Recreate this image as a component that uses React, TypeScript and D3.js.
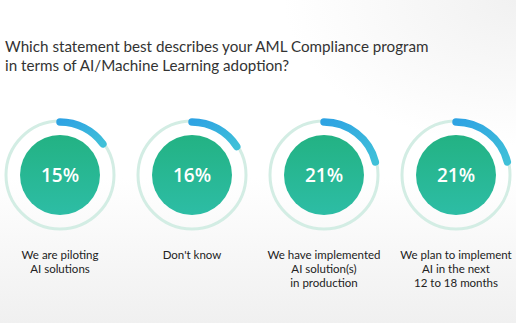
import React, { useRef, useEffect } from 'react';
import * as d3 from 'd3';

const titleLines = [
  'Which statement best describes your AML Compliance program',
  'in terms of AI/Machine Learning adoption?',
];
const values = [15, 16, 21, 21];
const labels = [
  ['We are piloting', 'AI solutions'],
  ["Don't know"],
  ['We have implemented', 'AI solution(s)', 'in production'],
  ['We plan to implement', 'AI in the next', '12 to 18 months'],
];

export default function App() {
  const svgRef = useRef<SVGSVGElement>(null);

  useEffect(() => {
    const width = 516;
    const height = 323;
    const svg = d3.select(svgRef.current)
      .attr('width', width)
      .attr('height', height);
    svg.selectAll('*').remove();

    const defs = svg.append('defs');
    const bg = defs.append('linearGradient').attr('id', 'bg')
      .attr('x1', 0).attr('y1', 0).attr('x2', 0).attr('y2', 1);
    bg.append('stop').attr('offset', '0.55').attr('stop-color', '#ffffff');
    bg.append('stop').attr('offset', '1').attr('stop-color', '#f0f0f0');

    const corner = defs.append('radialGradient').attr('id', 'corner')
      .attr('cx', 1).attr('cy', 0).attr('r', 0.45);
    corner.append('stop').attr('offset', '0').attr('stop-color', '#f1f1f1');
    corner.append('stop').attr('offset', '1').attr('stop-color', '#f1f1f1').attr('stop-opacity', 0);

    const green = defs.append('linearGradient').attr('id', 'green')
      .attr('x1', 0).attr('y1', 0).attr('x2', 0).attr('y2', 1);
    green.append('stop').attr('offset', '0').attr('stop-color', '#23b283');
    green.append('stop').attr('offset', '1').attr('stop-color', '#2dbda5');

    const blue = defs.append('linearGradient').attr('id', 'blue')
      .attr('gradientUnits', 'objectBoundingBox')
      .attr('x1', 0).attr('y1', 0).attr('x2', 1).attr('y2', 1);
    blue.append('stop').attr('offset', '0').attr('stop-color', '#2ea3e3');
    blue.append('stop').attr('offset', '1').attr('stop-color', '#3fc0d8');

    svg.append('rect').attr('width', width).attr('height', height).attr('fill', 'url(#bg)');
    svg.append('rect').attr('width', width).attr('height', height).attr('fill', 'url(#corner)');

    // title
    svg.append('g').selectAll('text')
      .data(titleLines)
      .enter()
      .append('text')
      .attr('x', 5)
      .attr('y', (d, i) => 52 + i * 18.5)
      .style('font-family', 'Lato')
      .style('font-size', '15.2px')
      .style('fill', '#333')
      .text(d => d);

    // positions
    const x = d3.scalePoint<number>()
      .domain(values.map((d, i) => i))
      .range([60, 456]);
    const cy = 175;
    const ringR = 54;
    const innerR = 40;
    const angle = d3.scaleLinear().domain([0, 100]).range([0, 2 * Math.PI]);

    const arcPath = (v: number) => {
      const p = d3.path();
      const a0 = -Math.PI / 2;
      p.moveTo(0, -(ringR - 1));
      p.arc(0, 0, ringR - 1, a0, a0 + angle(v));
      return p.toString();
    };

    const g = svg.selectAll('.gauge')
      .data(values)
      .enter()
      .append('g')
      .attr('class', 'gauge')
      .attr('transform', (d, i) => `translate(${x(i)},${cy})`);

    g.append('circle')
      .attr('r', ringR)
      .attr('fill', 'none')
      .attr('stroke', '#d3ede4')
      .attr('stroke-width', 3);

    g.append('path')
      .attr('d', d => arcPath(d))
      .attr('fill', 'none')
      .attr('stroke', 'url(#blue)')
      .attr('stroke-width', 7.5)
      .attr('stroke-linecap', 'round');

    g.append('circle')
      .attr('r', innerR)
      .attr('fill', 'url(#green)');

    g.append('text')
      .attr('text-anchor', 'middle')
      .attr('dy', '0.36em')
      .style('font-family', 'Open Sans')
      .style('font-weight', 600)
      .style('font-size', '19px')
      .style('fill', '#fff')
      .text(d => `${d}%`);

    // labels
    svg.selectAll('.label')
      .data(labels)
      .enter()
      .append('text')
      .attr('class', 'label')
      .attr('text-anchor', 'middle')
      .style('font-family', 'Lato')
      .style('font-size', '11.5px')
      .style('fill', '#222')
      .each(function (d, i) {
        d3.select(this).selectAll('tspan')
          .data(d)
          .enter()
          .append('tspan')
          .attr('x', x(i))
          .attr('y', (t, j) => 259 + j * 14)
          .text(t => t);
      });
  }, []);

  return (
    <div style={{ position: 'absolute', left: 0, top: 0 }}>
      <svg ref={svgRef} style={{ display: 'block' }}></svg>
    </div>
  );
}
